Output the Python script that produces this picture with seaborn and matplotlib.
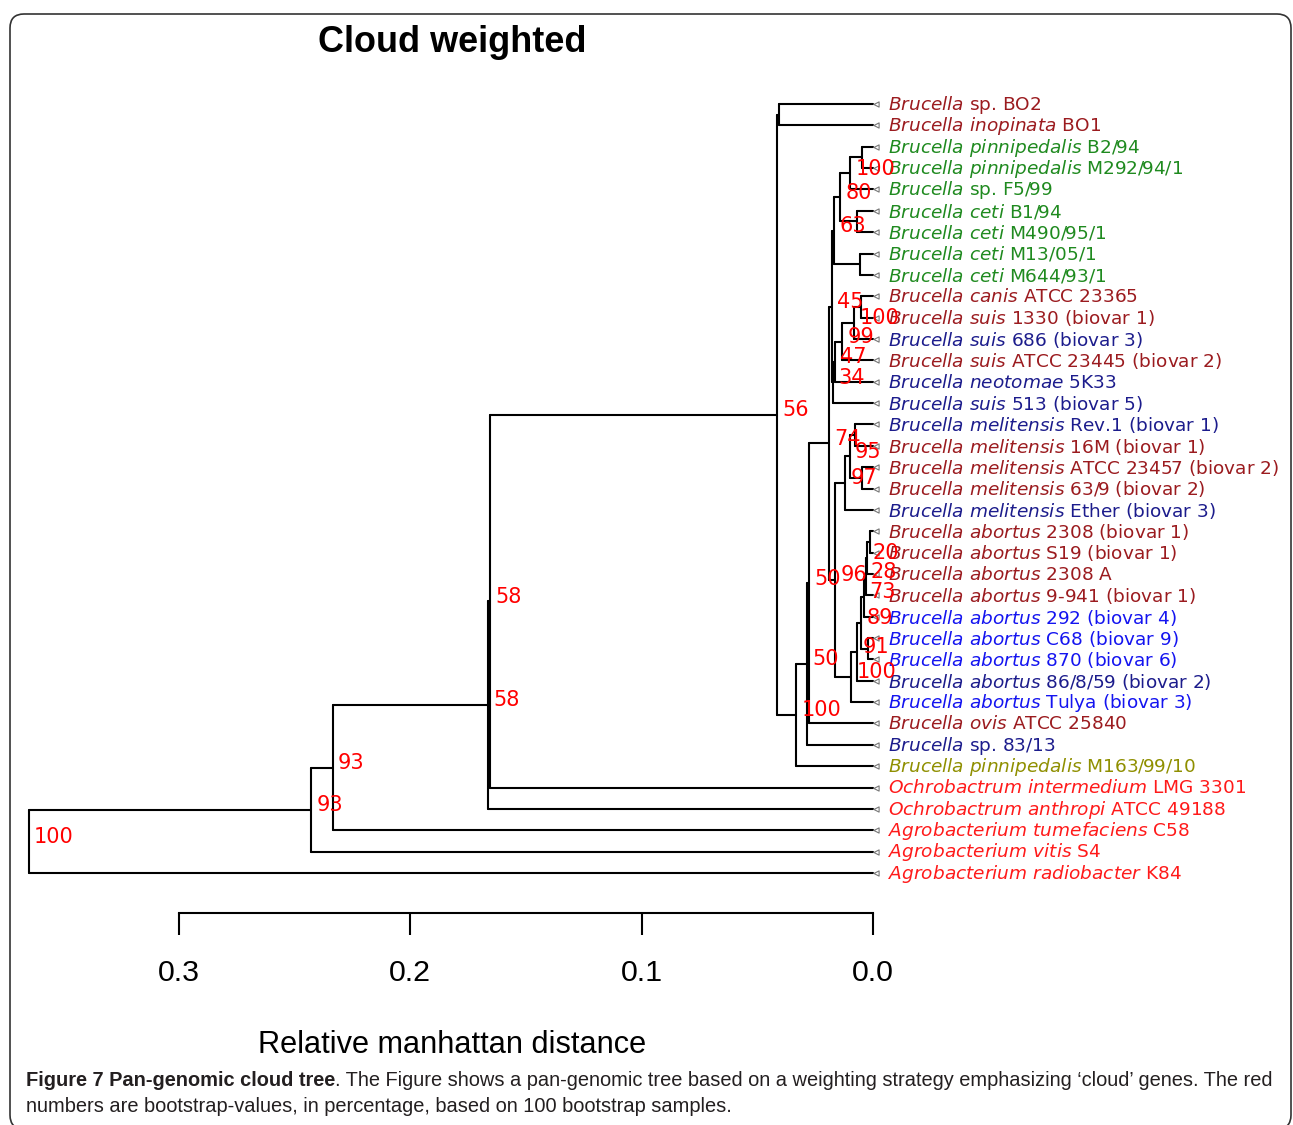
import matplotlib
matplotlib.use("Agg")
import numpy as np
import pandas as pd
import matplotlib.pyplot as plt
import seaborn as sns
from matplotlib import font_manager
from matplotlib.patches import FancyBboxPatch
from matplotlib.transforms import IdentityTransform

# ------------------------------------------------------------------ data
leaf_taxa = [
    "Brucella", "Brucella inopinata", "Brucella pinnipedalis", "Brucella pinnipedalis",
    "Brucella", "Brucella ceti", "Brucella ceti", "Brucella ceti", "Brucella ceti",
    "Brucella canis", "Brucella suis", "Brucella suis", "Brucella suis",
    "Brucella neotomae", "Brucella suis", "Brucella melitensis", "Brucella melitensis",
    "Brucella melitensis", "Brucella melitensis", "Brucella melitensis",
    "Brucella abortus", "Brucella abortus", "Brucella abortus", "Brucella abortus",
    "Brucella abortus", "Brucella abortus", "Brucella abortus", "Brucella abortus",
    "Brucella abortus", "Brucella ovis", "Brucella", "Brucella pinnipedalis",
    "Ochrobactrum intermedium", "Ochrobactrum anthropi", "Agrobacterium tumefaciens",
    "Agrobacterium vitis", "Agrobacterium radiobacter",
]
leaf_strains = [
    "sp. BO2", "BO1", "B2/94", "M292/94/1", "sp. F5/99", "B1/94", "M490/95/1",
    "M13/05/1", "M644/93/1", "ATCC 23365", "1330 (biovar 1)", "686 (biovar 3)",
    "ATCC 23445 (biovar 2)", "5K33", "513 (biovar 5)", "Rev.1 (biovar 1)",
    "16M (biovar 1)", "ATCC 23457 (biovar 2)", "63/9 (biovar 2)", "Ether (biovar 3)",
    "2308 (biovar 1)", "S19 (biovar 1)", "2308 A", "9-941 (biovar 1)", "292 (biovar 4)",
    "C68 (biovar 9)", "870 (biovar 6)", "86/8/59 (biovar 2)", "Tulya (biovar 3)",
    "ATCC 25840", "sp. 83/13", "M163/99/10", "LMG 3301", "ATCC 49188", "C58", "S4", "K84",
]
leaf_groups = [
    "dr", "dr", "gr", "gr", "gr", "gr", "gr", "gr", "gr", "dr", "dr", "nv", "dr", "nv",
    "nv", "nv", "dr", "dr", "dr", "nv", "dr", "dr", "dr", "dr", "bl", "bl", "bl", "nv",
    "bl", "dr", "nv", "ol", "rd", "rd", "rd", "rd", "rd",
]
group_colors = {"dr": "#9b1b1f", "gr": "#1f8a1f", "nv": "#1c1c8c", "bl": "#1414f0",
                "ol": "#8f8f00", "rd": "#ff1a1a"}

# internal nodes: name, children, height (relative manhattan distance)
node_names = ["BO", "A", "B", "C", "D", "F", "E", "I", "J", "M", "N", "O", "K",
              "m1", "m2", "m3", "m4", "a1", "a2", "a3", "a4", "b1", "a5", "a6", "a7",
              "W", "Z", "Y", "X", "V", "R56", "n58a", "n58b", "n93a", "n93b", "root"]
node_children = [("L1", "L2"), ("L3", "L4"), ("A", "L5"), ("L6", "L7"), ("B", "C"),
                 ("L8", "L9"), ("D", "F"), ("L10", "L11"), ("I", "L12"), ("J", "L13"),
                 ("M", "L14"), ("N", "L15"), ("E", "O"),
                 ("L16", "L17"), ("L18", "L19"), ("m1", "m2"), ("m3", "L20"),
                 ("L21", "L22"), ("a1", "L23"), ("a2", "L24"), ("a3", "L25"),
                 ("L26", "L27"), ("a4", "b1"), ("a5", "L28"), ("a6", "L29"),
                 ("m4", "a7"), ("K", "W"), ("Z", "L30"), ("Y", "L31"), ("X", "L32"),
                 ("BO", "V"), ("R56", "L33"), ("n58a", "L34"), ("n58b", "L35"),
                 ("n93a", "L36"), ("n93b", "L37")]
node_heights = [0.0406, 0.0048, 0.0099, 0.0069, 0.0143, 0.0056, 0.0169, 0.0052,
                0.0082, 0.0134, 0.0166, 0.0171, 0.0179,
                0.0078, 0.0048, 0.0101, 0.0121, 0.0013, 0.0024, 0.0032, 0.0039,
                0.0022, 0.0052, 0.0069, 0.0095, 0.0164, 0.0190, 0.0275, 0.0285,
                0.0333, 0.0415, 0.1656, 0.1665, 0.2335, 0.2430, 0.3649]

boot_nodes = ["B", "D", "E", "K", "J", "M", "N", "O", "m3", "m4", "a2", "a3", "a4",
              "a5", "a6", "a7", "W", "Z", "Y", "X", "V", "R56", "n58a", "n58b",
              "n93a", "n93b", "root"]
boot_values = [100, 80, 63, 45, 100, 99, 47, 34, 95, 97, 20, 28, 73, 89, 91, 100,
               96, 74, 50, 50, 100, 56, 58, 58, 93, 93, 100]

scale_ticks = [0.3, 0.2, 0.1, 0.0]
scale_labels = ["0.3", "0.2", "0.1", "0.0"]

title_text = "Cloud weighted"
xlabel_text = "Relative manhattan distance"
caption_bold = "Figure 7 Pan-genomic cloud tree"
caption_line1 = (". The Figure shows a pan-genomic tree based on a weighting strategy "
                 "emphasizing \u2018cloud\u2019 genes. The red")
caption_line2 = "numbers are bootstrap-values, in percentage, based on 100 bootstrap samples."

# ------------------------------------------------------------------ style
sns.set_theme(style="white")
plt.rcParams["font.family"] = ["DejaVu Sans"]
plt.rcParams["mathtext.fontset"] = "dejavusans"
plt.rcParams["text.color"] = "black"
plt.rcParams["xtick.color"] = "black"


def has_font(name):
    try:
        font_manager.findfont(font_manager.FontProperties(family=name),
                              fallback_to_default=False)
        return True
    except Exception:
        return False


narrow = "DejaVu Sans"
for cand in ["Liberation Sans Narrow", "Liberation Sans"]:
    if has_font(cand):
        narrow = cand
        break

W, H = 1293, 1125
fig = plt.figure(figsize=(W / 100, H / 100), dpi=100)
fig.patch.set_facecolor("white")

# ------------------------------------------------------------------ tree layout
n_leaves = len(leaf_taxa)
pos_x = {f"L{i+1}": 0.0 for i in range(n_leaves)}
pos_y = {f"L{i+1}": float(i + 1) for i in range(n_leaves)}
for name, ch, h in zip(node_names, node_children, node_heights):
    pos_x[name] = h
    pos_y[name] = float(np.mean([pos_y[c] for c in ch]))

rows = []
sid = 0
for name, ch in zip(node_names, node_children):
    ys = [pos_y[c] for c in ch]
    rows += [(sid, pos_x[name], min(ys)), (sid, pos_x[name], max(ys))]
    sid += 1
    for c in ch:
        rows += [(sid, pos_x[name], pos_y[c]), (sid, pos_x[c], pos_y[c])]
        sid += 1
seg_df = pd.DataFrame(rows, columns=["seg", "x", "y"])

# main axes covering whole figure, data coords mapped to pixel layout
px_per_unit = (873 - 179) / 0.3
px_per_leaf = (873 - 104) / 36.0
ax = fig.add_axes([0, 0, 1, 1])
sns.lineplot(data=seg_df, x="x", y="y", units="seg", estimator=None, sort=False,
             color="black", lw=1.5, ax=ax, legend=False)
ax.set_xlim(873 / px_per_unit, (873 - W) / px_per_unit)
ax.set_ylim(1 + (H - 104) / px_per_leaf, 1 - 104 / px_per_leaf)
ax.axis("off")

leaf_df = pd.DataFrame({"x": [-2.5 / px_per_unit] * n_leaves,
                        "y": [pos_y[f"L{i+1}"] for i in range(n_leaves)]})
sns.scatterplot(data=leaf_df, x="x", y="y", marker="<", s=14, color="white",
                edgecolor="#777777", linewidth=0.8, ax=ax, legend=False, zorder=3)

for i in range(n_leaves):
    taxon = leaf_taxa[i].replace(" ", r"\ ")
    label = rf"$\mathit{{{taxon}}}$ {leaf_strains[i]}"
    ax.annotate(label, xy=(0, pos_y[f"L{i+1}"]), xytext=(10.8, -0.6),
                textcoords="offset points", ha="left", va="center",
                color=group_colors[leaf_groups[i]], fontsize=13.3)

for nd, v in zip(boot_nodes, boot_values):
    ax.annotate(str(v), xy=(pos_x[nd], pos_y[nd]), xytext=(3.8, 3.4),
                textcoords="offset points", ha="left", va="center",
                color="#ff0000", fontsize=15)

renderer = fig.canvas.get_renderer()


def fit(t, target):
    w = t.get_window_extent(renderer).width
    t.set_fontsize(t.get_fontsize() * target / w)


# title and axis label
t_title = fig.text(452 / W, 1 - 42 / H, title_text, ha="center", va="center",
                   fontsize=30, fontweight="bold", family=narrow, color="black")
fit(t_title, 268)
t_xl = fig.text(452 / W, 1 - 1045 / H, xlabel_text, ha="center", va="center",
                fontsize=26, family=narrow, color="black")
fit(t_xl, 388)

# scale axis
ax2 = fig.add_axes([179 / W, (H - 913) / H, (873 - 179) / W, 1e-4])
ax2.set_xlim(0.3, 0.0)
ax2.set_ylim(0, 1)
ax2.patch.set_alpha(0)
for s in ["top", "left", "right"]:
    ax2.spines[s].set_visible(False)
ax2.spines["bottom"].set_linewidth(1.5)
ax2.spines["bottom"].set_color("black")
ax2.set_yticks([])
tmp = fig.text(0, 0, "0.3", fontsize=26, family=narrow)
tw = tmp.get_window_extent(renderer).width
tick_fs = 26 * 42 / tw
tmp.remove()
ax2.set_xticks(scale_ticks)
ax2.set_xticklabels(scale_labels, family=narrow)
ax2.tick_params(axis="x", bottom=True, direction="out", length=16, width=1.5,
                pad=17, labelsize=tick_fs, colors="black")

# caption
cap_fs = 15
cb = fig.text(26 / W, 1 - 1081 / H, caption_bold, ha="left", va="center",
              fontsize=cap_fs, fontweight="bold", family=narrow, color="#231f20")
cr = fig.text(0, 1 - 1081 / H, caption_line1, ha="left", va="center",
              fontsize=cap_fs, family=narrow, color="#231f20")
wb = cb.get_window_extent(renderer).width
wr = cr.get_window_extent(renderer).width
cap_fs = cap_fs * 1252 / (wb + wr)
cb.set_fontsize(cap_fs)
cr.set_fontsize(cap_fs)
wb = cb.get_window_extent(renderer).width
cr.set_x((26 + wb) / W)
fig.text(26 / W, 1 - 1107 / H, caption_line2, ha="left", va="center",
         fontsize=cap_fs, family=narrow, color="#231f20")

# rounded frame
frame = FancyBboxPatch((10, -4), 1281, H - 10,
                       boxstyle="round,pad=0,rounding_size=14",
                       transform=IdentityTransform(), fill=False,
                       edgecolor="#333333", linewidth=1.2)
fig.add_artist(frame)

fig.savefig("out.png", dpi=100, facecolor="white")
